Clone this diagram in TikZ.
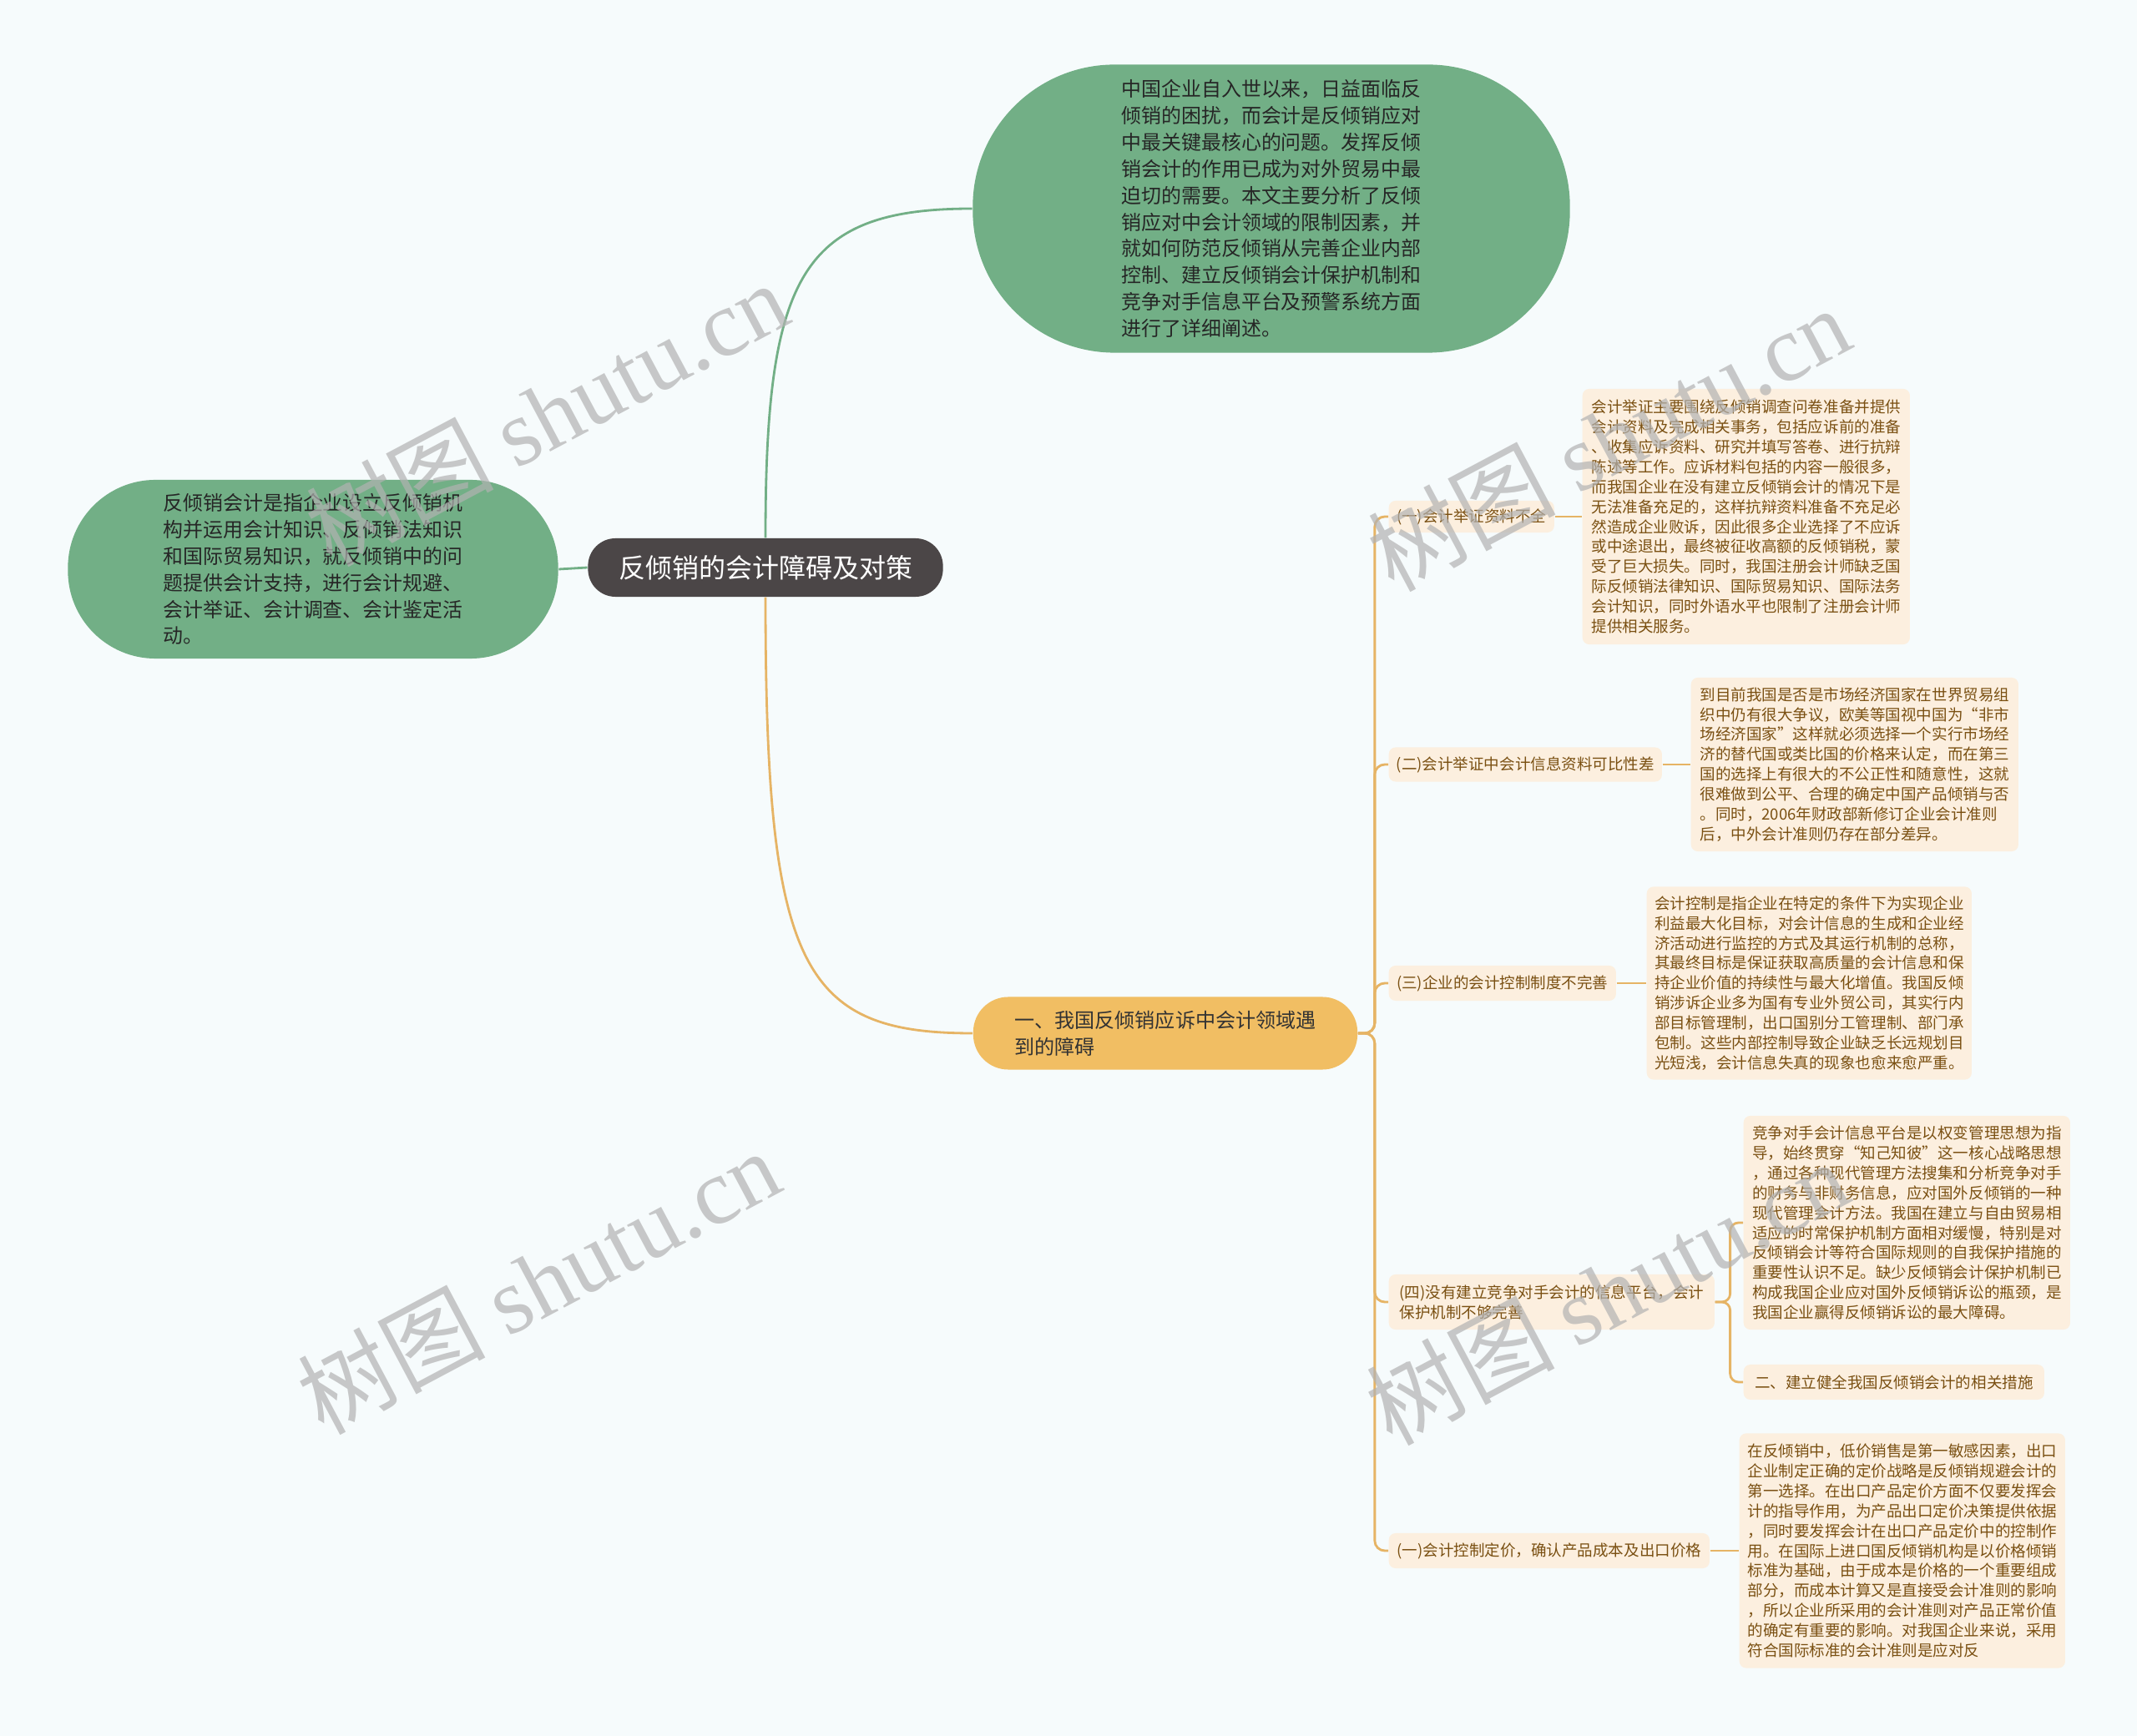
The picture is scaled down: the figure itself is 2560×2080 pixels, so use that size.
\documentclass[tikz,border=0pt]{standalone}
\usepackage{fontspec}
\setmainfont{Noto Sans CJK SC}
\newfontfamily\wmfont{Liberation Serif}
\usetikzlibrary{positioning}
\definecolor{bgcol}{HTML}{F6FBFC}
\definecolor{greenfill}{HTML}{72AF86}
\definecolor{rootfill}{HTML}{4B4647}
\definecolor{orangefill}{HTML}{F1BE63}
\definecolor{beige}{HTML}{FCEFDF}
\definecolor{brownink}{HTML}{7A5012}
\definecolor{tanline}{HTML}{E6B465}

\begin{document}
\begin{tikzpicture}[x=0.01cm, y=-0.01cm,
	every node/.style={inner sep=0pt, align=left},
	topic/.style={fill=greenfill, text=black!85, font=\fontsize{6.8pt}{9.07pt}\selectfont},
	sub/.style={fill=beige, text=brownink, rounded corners=2.3pt, font=\fontsize{5.27pt}{6.8pt}\selectfont, anchor=west},
	greenlink/.style={draw=greenfill, line width=0.8pt},
	tanlink/.style={draw=tanline, line width=0.8pt},
	wm/.style={text=black!30, text opacity=0.7, rotate=28, font=\fontsize{32pt}{32pt}\selectfont}]
	\fill[bgcol] (0,0) rectangle (2560,2080);
	\useasboundingbox (0,0) rectangle (2560,2080);

	% centre and the two green topics
	\node[fill=rootfill, text=white, rounded corners=0.33cm, minimum width=4.25cm, minimum height=0.7cm,
		font=\fontsize{9.1pt}{11pt}\selectfont] (root) at (917,680) {反倾销的会计障碍及对策};
	\node[topic, rounded corners=1.05cm, minimum width=5.87cm, minimum height=2.14cm] (leftg) at (375,682)
		{反倾销会计是指企业设立反倾销机\\构并运用会计知识、反倾销法知识\\和国际贸易知识，就反倾销中的问\\题提供会计支持，进行会计规避、\\会计举证、会计调查、会计鉴定活\\动。};
	\node[topic, rounded corners=1.7cm, minimum width=7.15cm, minimum height=3.45cm] (topg) at (1523,250)
		{中国企业自入世以来，日益面临反\\倾销的困扰，而会计是反倾销应对\\中最关键最核心的问题。发挥反倾\\销会计的作用已成为对外贸易中最\\迫切的需要。本文主要分析了反倾\\销应对中会计领域的限制因素，并\\就如何防范反倾销从完善企业内部\\控制、建立反倾销会计保护机制和\\竞争对手信息平台及预警系统方面\\进行了详细阐述。};
	\node[fill=orangefill, text=black!80, rounded corners=0.42cm, minimum width=4.6cm, minimum height=0.87cm,
		font=\fontsize{6.85pt}{9.2pt}\selectfont] (branch) at (1396,1238) {一、我国反倾销应诉中会计领域遇\\到的障碍};

	% second level
	\node[sub, minimum width=1.98cm, minimum height=0.38cm] (l1) at (1663,619) {(一)会计举证资料不全};
	\node[sub, minimum width=3.27cm, minimum height=0.41cm] (l2) at (1663,916) {(二)会计举证中会计信息资料可比性差};
	\node[sub, minimum width=2.72cm, minimum height=0.42cm] (l3) at (1663,1178) {(三)企业的会计控制制度不完善};
	\node[sub, minimum width=3.9cm, minimum height=0.66cm] (l4) at (1663,1560) {(四)没有建立竞争对手会计的信息平台，会计\\保护机制不够完善};
	\node[sub, minimum width=3.84cm, minimum height=0.42cm] (l5) at (1663,1858) {(一)会计控制定价，确认产品成本及出口价格};

	% details
	\node[sub, minimum width=3.92cm, minimum height=3.06cm] (d1) at (1895,619)
		{会计举证主要围绕反倾销调查问卷准备并提供\\会计资料及完成相关事务，包括应诉前的准备\\、收集应诉资料、研究并填写答卷、进行抗辩\\陈述等工作。应诉材料包括的内容一般很多，\\而我国企业在没有建立反倾销会计的情况下是\\无法准备充足的，这样抗辩资料准备不充足必\\然造成企业败诉，因此很多企业选择了不应诉\\或中途退出，最终被征收高额的反倾销税，蒙\\受了巨大损失。同时，我国注册会计师缺乏国\\际反倾销法律知识、国际贸易知识、国际法务\\会计知识，同时外语水平也限制了注册会计师\\提供相关服务。};
	\node[sub, minimum width=3.92cm, minimum height=2.08cm] (d2) at (2025,916)
		{到目前我国是否是市场经济国家在世界贸易组\\织中仍有很大争议，欧美等国视中国为“非市\\场经济国家”这样就必须选择一个实行市场经\\济的替代国或类比国的价格来认定，而在第三\\国的选择上有很大的不公正性和随意性，这就\\很难做到公平、合理的确定中国产品倾销与否\\。同时，2006年财政部新修订企业会计准则\\后，中外会计准则仍存在部分差异。};
	\node[sub, minimum width=3.89cm, minimum height=2.31cm] (d3) at (1972,1178)
		{会计控制是指企业在特定的条件下为实现企业\\利益最大化目标，对会计信息的生成和企业经\\济活动进行监控的方式及其运行机制的总称，\\其最终目标是保证获取高质量的会计信息和保\\持企业价值的持续性与最大化增值。我国反倾\\销涉诉企业多为国有专业外贸公司，其实行内\\部目标管理制，出口国别分工管理制、部门承\\包制。这些内部控制导致企业缺乏长远规划目\\光短浅，会计信息失真的现象也愈来愈严重。};
	\node[sub, minimum width=3.91cm, minimum height=2.56cm] (d4a) at (2088,1465)
		{竞争对手会计信息平台是以权变管理思想为指\\导，始终贯穿“知己知彼”这一核心战略思想\\，通过各种现代管理方法搜集和分析竞争对手\\的财务与非财务信息，应对国外反倾销的一种\\现代管理会计方法。我国在建立与自由贸易相\\适应的时常保护机制方面相对缓慢，特别是对\\反倾销会计等符合国际规则的自我保护措施的\\重要性认识不足。缺少反倾销会计保护机制已\\构成我国企业应对国外反倾销诉讼的瓶颈，是\\我国企业赢得反倾销诉讼的最大障碍。};
	\node[sub, minimum width=3.6cm, minimum height=0.42cm] (d4b) at (2088,1656) {二、建立健全我国反倾销会计的相关措施};
	\node[sub, minimum width=3.9cm, minimum height=2.81cm] (d5) at (2083,1858)
		{在反倾销中，低价销售是第一敏感因素，出口\\企业制定正确的定价战略是反倾销规避会计的\\第一选择。在出口产品定价方面不仅要发挥会\\计的指导作用，为产品出口定价决策提供依据\\，同时要发挥会计在出口产品定价中的控制作\\用。在国际上进口国反倾销机构是以价格倾销\\标准为基础，由于成本是价格的一个重要组成\\部分，而成本计算又是直接受会计准则的影响\\，所以企业所采用的会计准则对产品正常价值\\的确定有重要的影响。对我国企业来说，采用\\符合国际标准的会计准则是应对反};

	% connectors
	\draw[greenlink] (root.west) -- (leftg.east);
	\draw[greenlink] (root.north) .. controls (917,330) and (960,250) .. (topg.west);
	\draw[tanlink] (root.south) .. controls (917,1160) and (960,1238) .. (branch.west);
	\foreach \n in {l1,l2,l3,l4,l5}
		\draw[tanlink, rounded corners=0.12cm] (branch.east) -- ++(20,0) |- (\n.west);
	\foreach \a/\b in {l1/d1, l2/d2, l3/d3, l5/d5}
		\draw[tanlink] (\a.east) -- (\b.west);
	\foreach \b in {d4a,d4b}
		\draw[tanlink, rounded corners=0.1cm] (l4.east) -- ++(18,0) |- (\b.west);

	% watermarks
	\node[wm] (wm1) at (655,495) {树图 {\wmfont shutu.cn}};
	\node[wm] (wm2) at (1927,525) {树图 {\wmfont shutu.cn}};
	\node[wm] (wm3) at (645,1535) {树图 {\wmfont shutu.cn}};
	\node[wm] (wm4) at (1925,1548) {树图 {\wmfont shutu.cn}};
\end{tikzpicture}
\end{document}
